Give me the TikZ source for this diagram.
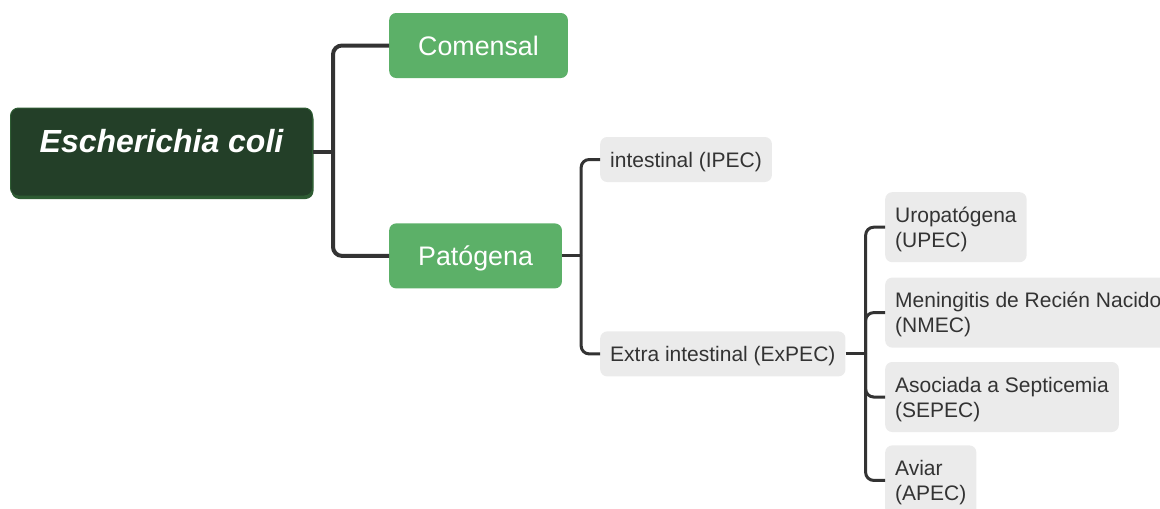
\documentclass[tikz,border=0pt]{standalone}
\usepackage{fontspec}
\setmainfont{Liberation Sans}
\usetikzlibrary{positioning, calc, shadows}

\definecolor{root-green}{HTML}{233F28}
\definecolor{root-edge}{HTML}{2E5C33}
\definecolor{branch-green}{HTML}{5CB068}
\definecolor{leaf-gray}{HTML}{EBEBEB}
\definecolor{line-gray}{HTML}{333333}
\definecolor{text-gray}{HTML}{333333}

\tikzset{
    rootbox/.style={fill=root-green, draw=root-edge, line width=1pt,
        rounded corners=8pt, text=white, inner sep=0pt,
        minimum width=302pt, text height=44pt, text depth=44pt,
        drop shadow={shadow xshift=1pt, shadow yshift=-3pt,
            fill=root-edge, opacity=1},
        font=\fontsize{32}{36}\selectfont\bfseries\itshape},
    branchbox/.style={fill=branch-green, text=white, rounded corners=7pt,
        inner xsep=29pt, inner ysep=0pt, minimum height=65pt,
        text depth=0pt, font=\fontsize{26.8}{30}\selectfont},
    leafbox/.style={fill=leaf-gray, text=text-gray, rounded corners=7pt,
        inner xsep=10pt, align=left, text depth=0pt,
        font=\fontsize{21}{25}\selectfont},
    conn/.style={line-gray, line width=3pt},
}

\begin{document}
\begin{tikzpicture}[x=1pt, y=-1pt]
    \clip (0,0) rectangle (1160,509);

    % ROOT
    \node [rootbox] (root) at (161.5,152) {Escherichia coli};

    % FIRST LEVEL
    \node [branchbox, anchor=west] (com) at (389,45.5) {Comensal};
    \node [branchbox, below=145pt of com.south west, anchor=north west]
        (pat) {Patógena};

    % SECOND LEVEL
    \node [leafbox, minimum height=45pt, anchor=west] (ipec) at (600,159.5)
        {intestinal (IPEC)};
    \node [leafbox, minimum height=45pt, below=149pt of ipec.south west,
        anchor=north west] (expec) {Extra intestinal (ExPEC)};

    % THIRD LEVEL
    \node [leafbox, minimum height=70pt, anchor=north west] (uro) at (885,192)
        {Uropatógena\\(UPEC)};
    \node [leafbox, minimum height=70pt, below=15pt of uro.south west,
        anchor=north west] (nmec) {Meningitis de Recién Nacido\\(NMEC)};
    \node [leafbox, minimum height=70pt, below=14pt of nmec.south west,
        anchor=north west] (sepec) {Asociada a Septicemia\\(SEPEC)};
    \node [leafbox, minimum height=70pt, below=13pt of sepec.south west,
        anchor=north west] (apec) {Aviar\\(APEC)};

    % Junctions of the brackets
    \coordinate (j1) at ($(root.east)+(20pt,0)$);
    \coordinate (j2) at ($(pat.east)+(19pt,0)$);
    \coordinate (j3) at ($(expec.east)+(20pt,0)$);

    % Root to first level
    \draw[conn, line width=4pt] (root.east) -- (j1);
    \foreach \child in {com, pat}
        \draw[conn, line width=4pt, rounded corners=9pt] (j1) |- (\child.west);

    % First to second level
    \draw[conn] (pat.east) -- (j2);
    \foreach \child in {ipec, expec}
        \draw[conn, rounded corners=8pt] (j2) |- (\child.west);

    % Second to third level
    \draw[conn] (expec.east) -- (j3);
    \foreach \child in {uro, nmec, sepec, apec}
        \draw[conn, rounded corners=8pt] (j3) |- (\child.west);
\end{tikzpicture}
\end{document}
